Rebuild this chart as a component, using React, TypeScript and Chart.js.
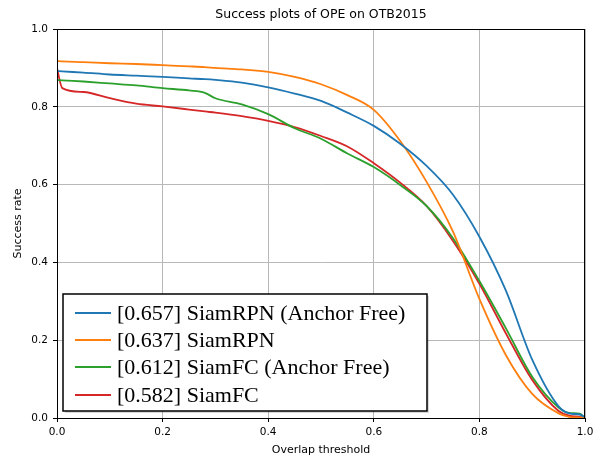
import React, { useEffect, useRef } from "react";
import { Chart, registerables } from "chart.js";

Chart.register(...registerables);

const thresholds = [0, 0.01, 0.05, 0.1, 0.15, 0.2, 0.25, 0.28, 0.3, 0.35, 0.4, 0.45, 0.5, 0.55, 0.6, 0.65, 0.7, 0.75, 0.8, 0.85, 0.9, 0.95, 0.97, 0.99, 1.0];

const siamRpnAF = [0.892, 0.891, 0.888, 0.883, 0.880, 0.877, 0.873, 0.871, 0.869, 0.862, 0.850, 0.834, 0.815, 0.785, 0.751, 0.705, 0.648, 0.574, 0.466, 0.328, 0.150, 0.030, 0.012, 0.009, 0.002];
const siamRpn = [0.918, 0.917, 0.915, 0.912, 0.910, 0.907, 0.904, 0.902, 0.900, 0.896, 0.890, 0.877, 0.858, 0.830, 0.792, 0.712, 0.607, 0.479, 0.306, 0.162, 0.062, 0.012, 0.003, 0.001, 0.0];
const siamFcAF = [0.869, 0.868, 0.865, 0.860, 0.855, 0.848, 0.842, 0.836, 0.822, 0.806, 0.781, 0.745, 0.718, 0.680, 0.645, 0.599, 0.545, 0.462, 0.352, 0.231, 0.106, 0.027, 0.013, 0.011, 0.0];
const siamFc = [0.899, 0.848, 0.838, 0.822, 0.808, 0.801, 0.793, 0.788, 0.785, 0.776, 0.764, 0.748, 0.725, 0.698, 0.655, 0.605, 0.545, 0.455, 0.345, 0.218, 0.098, 0.018, 0.006, 0.003, 0.0];

const seriesLabels = [
  "[0.657] SiamRPN (Anchor Free)",
  "[0.637] SiamRPN",
  "[0.612] SiamFC (Anchor Free)",
  "[0.582] SiamFC",
];
const seriesValues = [siamRpnAF, siamRpn, siamFcAF, siamFc];
const seriesColors = ["#1f77b4", "#ff7f0e", "#2ca02c", "#d62728"];

const titleText = "Success plots of OPE on OTB2015";
const xTitle = "Overlap threshold";
const yTitle = "Success rate";

const textPlugin = {
  id: "mplText",
  afterDraw(chart: any) {
    const { ctx, chartArea } = chart;
    const cx = (chartArea.left + chartArea.right) / 2;
    const cy = (chartArea.top + chartArea.bottom) / 2;
    ctx.save();
    ctx.strokeStyle = "#000";
    ctx.lineWidth = 1;
    ctx.strokeRect(chartArea.left + 0.5, chartArea.top + 0.5, chartArea.right - chartArea.left - 1, chartArea.bottom - chartArea.top);
    ctx.fillStyle = "#000";
    ctx.font = "12.5px 'DejaVu Sans'";
    ctx.textAlign = "center";
    ctx.textBaseline = "middle";
    ctx.fillText(titleText, cx, 15);
    ctx.font = "11px 'DejaVu Sans'";
    ctx.fillText(xTitle, cx, 450);
    ctx.translate(18, cy);
    ctx.rotate(-Math.PI / 2);
    ctx.fillText(yTitle, 0, 0);
    ctx.restore();

    ctx.save();
    const lx = 63, ly = 294, lw = 364, lh = 117;
    ctx.fillStyle = "rgba(0,0,0,0.15)";
    ctx.fillRect(lx + 2, ly + 2, lw, lh);
    ctx.fillStyle = "#fff";
    ctx.fillRect(lx, ly, lw, lh);
    ctx.strokeStyle = "#000";
    ctx.lineWidth = 1.5;
    ctx.strokeRect(lx, ly, lw, lh);
    ctx.font = "22px 'Liberation Serif'";
    ctx.textAlign = "left";
    ctx.textBaseline = "middle";
    const rows = [313, 340, 367, 395];
    chart.data.datasets.forEach((ds: any, i: number) => {
      ctx.strokeStyle = ds.borderColor;
      ctx.lineWidth = 2;
      ctx.beginPath();
      ctx.moveTo(75, rows[i]);
      ctx.lineTo(111, rows[i]);
      ctx.stroke();
      ctx.fillStyle = "#000";
      ctx.fillText(ds.label, 117, rows[i] + 1);
    });
    ctx.restore();
  },
};

export default function App() {
  const ref = useRef<HTMLCanvasElement>(null);
  useEffect(() => {
    if (!ref.current) return;
    const datasets = seriesLabels.map((label, i) => ({
      label,
      data: thresholds.map((t, j) => ({ x: t, y: seriesValues[i][j] })),
      borderColor: seriesColors[i],
      backgroundColor: seriesColors[i],
      borderWidth: 1.8,
      pointRadius: 0,
      cubicInterpolationMode: "monotone" as const,
      fill: false,
    }));
    const chart = new Chart(ref.current, {
      type: "line",
      data: { datasets },
      options: {
        responsive: false,
        animation: false,
        layout: { padding: { top: 29, right: 13, left: 0, bottom: 0 } },
        plugins: { legend: { display: false }, title: { display: false }, tooltip: { enabled: false } },
        scales: {
          x: {
            type: "linear",
            min: 0,
            max: 1,
            afterFit: (s: any) => { s.height = 40; },
            ticks: {
              stepSize: 0.2,
              color: "#000",
              font: { family: "'DejaVu Sans'", size: 10.5 },
              padding: 4,
              maxRotation: 0,
              callback: (v: any) => Number(v).toFixed(1),
            },
            grid: { color: "#b8b8b8", lineWidth: 1, tickColor: "#000", tickLength: 4 },
            border: { color: "#000", width: 1 },
          },
          y: {
            type: "linear",
            min: 0,
            max: 1,
            afterFit: (s: any) => { s.width = 57; },
            ticks: {
              stepSize: 0.2,
              color: "#000",
              font: { family: "'DejaVu Sans'", size: 10.5 },
              padding: 5,
              callback: (v: any) => Number(v).toFixed(1),
            },
            grid: { color: "#b8b8b8", lineWidth: 1, tickColor: "#000", tickLength: 4 },
            border: { color: "#000", width: 1 },
          },
        },
      },
      plugins: [textPlugin],
    });
    return () => chart.destroy();
  }, []);
  return (
    <div style={{ position: "absolute", left: 0, top: 0, width: 598, height: 458, background: "#fff" }}>
      <canvas ref={ref} width={598} height={458} />
    </div>
  );
}
